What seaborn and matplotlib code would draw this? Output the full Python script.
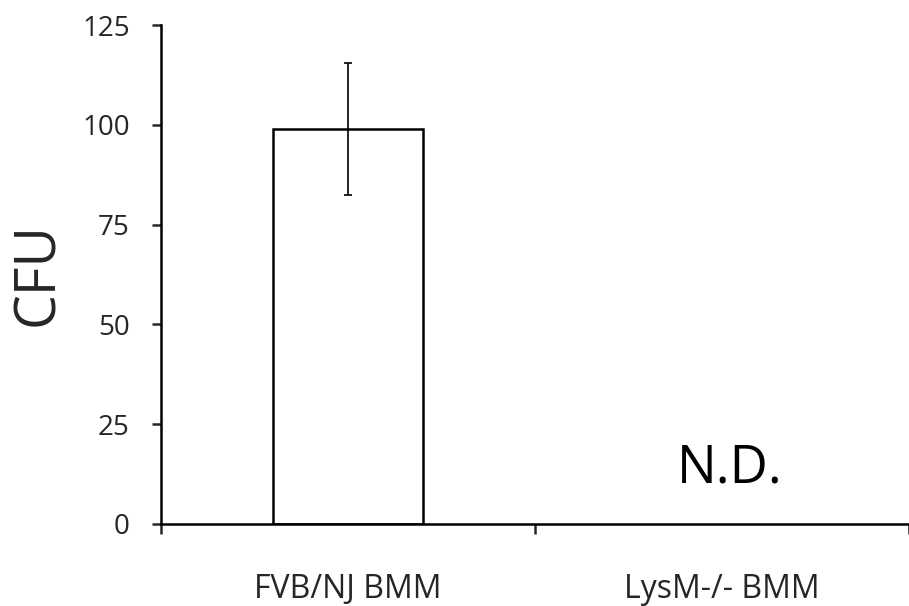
import matplotlib
matplotlib.use("Agg")
import matplotlib.pyplot as plt
import seaborn as sns
import pandas as pd
import numpy as np

# ---- data ----
categories = ["FVB/NJ BMM", "LysM-/- BMM"]
cfu_mean = [99.0, np.nan]      # second group not detected
cfu_err = [16.5, np.nan]
nd_label = "N.D."
y_ticks = [0, 25, 50, 75, 100, 125]
y_label = "CFU"

sns.set_style("ticks")
plt.rcParams["font.family"] = ["Open Sans", "DejaVu Sans"]

df = pd.DataFrame({"group": categories, "cfu": cfu_mean, "err": cfu_err})

fig = plt.figure(figsize=(9.09, 6.06), dpi=100)
ax = fig.add_axes([161 / 909, 1 - 524 / 606, 748 / 909, 499 / 606])

sns.barplot(data=df.dropna(), x="group", y="cfu", order=categories,
            color="white", edgecolor="black", linewidth=1.8,
            width=0.40, errorbar=None, ax=ax)

valid = df.dropna()
xpos = [categories.index(g) for g in valid["group"]]
ax.errorbar(xpos, valid["cfu"], yerr=valid["err"], fmt="none",
            ecolor="black", elinewidth=1.2, capsize=3, capthick=1.2)

# N.D. annotation for the missing group
ax.text(1.02, 10.3, nd_label, ha="center", va="baseline", fontsize=38,
        color="black")

ax.set_xlim(-0.5, 1.489)
ax.set_ylim(0, 125)
ax.set_yticks(y_ticks)
ax.set_yticklabels([str(t) for t in y_ticks])

ax.set_xticks([0, 1])
ax.set_xticklabels(categories)
ax.set_xticks([-0.5, 0.5, 1.5], minor=True)
ax.tick_params(axis="x", which="major", length=0, pad=35, labelsize=23)
ax.tick_params(axis="x", which="minor", length=7.5, width=1.8, direction="out")
ax.tick_params(axis="y", which="major", length=6.5, width=1.8, pad=16,
               labelsize=20, direction="out")

ax.set_xlabel("")
ax.set_ylabel(y_label, fontsize=40)
ax.yaxis.set_label_coords(-0.125, 0.5)

for s in ["top", "right"]:
    ax.spines[s].set_visible(False)
for s in ["left", "bottom"]:
    ax.spines[s].set_linewidth(1.8)
    ax.spines[s].set_color("black")

fig.savefig("out.png", dpi=100, facecolor="white")
